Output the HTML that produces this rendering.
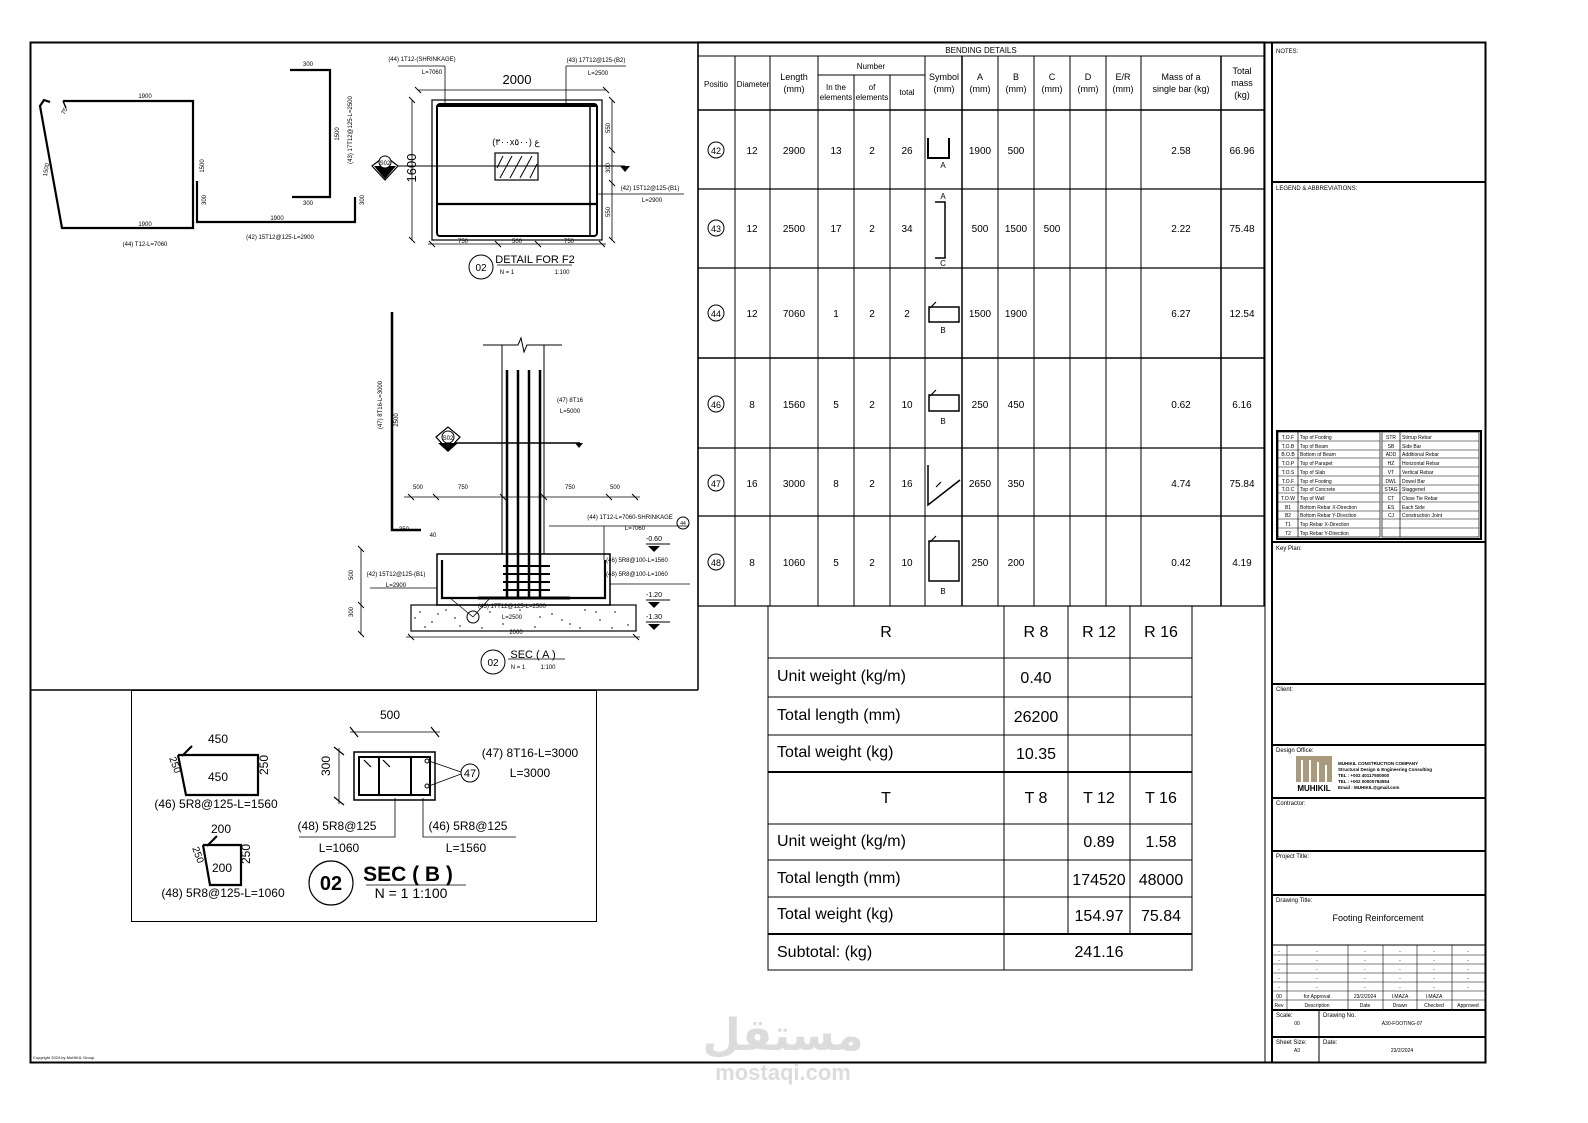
<!DOCTYPE html>
<html><head><meta charset="utf-8"><style>
html,body{margin:0;padding:0;background:#fff;}
svg{display:block;font-family:"Liberation Sans",sans-serif;}
.t{font-size:7px;}
.s{font-size:6px;}
.b{font-size:16px;}
</style></head><body>
<svg width="1588" height="1123" viewBox="0 0 1588 1123" xmlns="http://www.w3.org/2000/svg">
<rect width="1588" height="1123" fill="#fff"/>
<rect x="30.5" y="42.5" width="1455" height="1020" fill="none" stroke="#000" stroke-width="2"/>
<line x1="30" y1="690" x2="698" y2="690" stroke="#000" stroke-width="1.5"/>
<line x1="698" y1="42" x2="698" y2="690" stroke="#000" stroke-width="1.5"/>
<rect x="131.5" y="690.5" width="465" height="231" fill="none" stroke="#000" stroke-width="1"/>

<!-- ===== top-left bar shapes ===== -->
<g fill="none" stroke="#000" stroke-width="2.2">
<polyline points="63,101 193,101 193,228 62,228 40,106 44,100 50,102"/>
<line x1="63" y1="101" x2="66" y2="108" stroke-width="1.5"/>
<polyline points="197,181 197,222 355,222 355,197"/>
<polyline points="290,70 330,70 330,197 292,197"/>
</g>
<g class="s" text-anchor="middle">
<text x="145" y="98">1900</text><text x="145" y="226">1900</text>
<text x="277" y="220">1900</text>
<text x="308" y="66">300</text><text x="308" y="205">300</text>
<text x="145" y="246">(44) T12-L=7060</text>
<text x="280" y="239">(42) 15T12@125-L=2900</text>
<text transform="translate(204,166) rotate(-90)">1500</text>
<text transform="translate(48,170) rotate(-80)">1500</text>
<text transform="translate(206,200) rotate(-90)">300</text>
<text transform="translate(364,200) rotate(-90)">300</text>
<text transform="translate(339,134) rotate(-90)">1500</text>
<text transform="translate(352,130) rotate(-90)">(43) 17T12@125-L=2500</text>
<text transform="translate(66,112) rotate(-60)">75</text>
</g>

<!-- ===== Detail F2 ===== -->
<g fill="none" stroke="#000">
<rect x="432" y="100" width="170" height="140" stroke-width="1.2"/>
<rect x="437" y="104" width="160" height="132" rx="3" stroke-width="2"/>
<line x1="437" y1="204" x2="597" y2="204" stroke-width="2.2"/>
<line x1="437" y1="106" x2="597" y2="106" stroke-width="2"/>
<line x1="590" y1="106" x2="590" y2="236" stroke-width="1.5"/>
<rect x="495" y="153" width="43" height="27" stroke-width="1.2"/>
<line x1="375" y1="166" x2="625" y2="166" stroke-width="1"/>
<line x1="418" y1="90" x2="606" y2="90" stroke-width="0.8"/>
<line x1="412" y1="100" x2="412" y2="240" stroke-width="0.8"/>
<line x1="612" y1="100" x2="612" y2="240" stroke-width="0.8"/>
<line x1="428" y1="244" x2="606" y2="244" stroke-width="0.8"/>
<line x1="398" y1="66" x2="445" y2="66" stroke-width="0.8"/>
<line x1="445" y1="66" x2="445" y2="104" stroke-width="0.8"/>
<line x1="566" y1="66" x2="626" y2="66" stroke-width="0.8"/>
<line x1="566" y1="66" x2="566" y2="104" stroke-width="0.8"/>
<line x1="597" y1="194" x2="684" y2="194" stroke-width="0.8"/>
<circle cx="481" cy="267" r="12" stroke-width="1"/>
<line x1="497" y1="265" x2="572" y2="265" stroke-width="0.8"/>
</g>
<g stroke="#000" stroke-width="1">
<line x1="500" y1="178" x2="512" y2="156"/><line x1="510" y1="178" x2="522" y2="156"/><line x1="520" y1="178" x2="532" y2="156"/><line x1="530" y1="178" x2="537" y2="164"/><line x1="497" y1="168" x2="503" y2="156"/>
<line x1="415" y1="87" x2="421" y2="93"/><line x1="603" y1="87" x2="609" y2="93"/>
<line x1="409" y1="97" x2="415" y2="103"/><line x1="409" y1="237" x2="415" y2="243"/>
<line x1="609" y1="97" x2="615" y2="103"/><line x1="609" y1="147" x2="615" y2="153"/><line x1="609" y1="180" x2="615" y2="186"/><line x1="609" y1="237" x2="615" y2="243"/>
<line x1="429" y1="241" x2="435" y2="247"/><line x1="495" y1="241" x2="501" y2="247"/><line x1="535" y1="241" x2="541" y2="247"/><line x1="599" y1="241" x2="605" y2="247"/>
</g>
<path d="M372,166 L385,156 L398,166 L385,180 Z" fill="#fff" stroke="#000" stroke-width="1.2"/>
<path d="M374,166 L396,166 L385,179 Z" fill="#000"/>
<circle cx="385" cy="162" r="6" fill="#fff" stroke="#000" stroke-width="1"/>
<path d="M620,166 L630,166 L625,172 Z" fill="#000"/>
<g class="s" text-anchor="middle">
<text x="517" y="84" style="font-size:13px">2000</text>
<text transform="translate(416,168) rotate(-90)" style="font-size:13px">1600</text>
<text x="422" y="61">(44) 1T12-(SHRINKAGE)</text><text x="432" y="74">L=7060</text>
<text x="596" y="62">(43) 17T12@125-(B2)</text><text x="598" y="75">L=2500</text>
<text x="650" y="190">(42) 15T12@125-(B1)</text><text x="652" y="202">L=2900</text>
<text x="463" y="243">750</text><text x="517" y="243">500</text><text x="569" y="243">750</text>
<text transform="translate(610,128) rotate(-90)">550</text>
<text transform="translate(610,168) rotate(-90)">300</text>
<text transform="translate(610,212) rotate(-90)">550</text>
<text x="516" y="145" style="font-size:9px">(٣٠٠x٥٠٠) ع</text>
<text x="385" y="165">S02</text>
<text x="481" y="271" style="font-size:10px">02</text>
<text x="535" y="263" style="font-size:11px">DETAIL FOR F2</text>
<text x="507" y="274">N = 1</text><text x="562" y="274">1:100</text>
</g>

<!-- ===== Sec A ===== -->
<g fill="none" stroke="#000">
<polyline points="392,312 392,530 421,530" stroke-width="2.5"/>
<line x1="502" y1="345" x2="502" y2="554" stroke-width="1"/>
<line x1="544" y1="345" x2="544" y2="554" stroke-width="1"/>
<polyline points="483,345 518,345 521,338 524,352 527,345 562,345" stroke-width="1"/>
<line x1="507" y1="370" x2="507" y2="598" stroke-width="2.5"/>
<line x1="518" y1="370" x2="518" y2="598" stroke-width="2.5"/>
<line x1="529" y1="370" x2="529" y2="598" stroke-width="2.5"/>
<line x1="540" y1="370" x2="540" y2="598" stroke-width="2.5"/>
<rect x="437" y="554" width="173" height="51" stroke-width="1.5"/>
<polyline points="442,560 442,598 605,598 605,560" stroke-width="2.2"/>
<rect x="411" y="605" width="225" height="26" stroke-width="1.2"/>
<line x1="440" y1="443" x2="580" y2="443" stroke-width="1.5"/>
<line x1="404" y1="497" x2="640" y2="497" stroke-width="0.8"/>
<line x1="406" y1="637" x2="640" y2="637" stroke-width="0.8"/>
<line x1="361" y1="549" x2="361" y2="635" stroke-width="0.8"/>
<line x1="549" y1="526" x2="689" y2="526" stroke-width="0.8"/>
<line x1="604" y1="526" x2="604" y2="560" stroke-width="0.8"/>
<line x1="370" y1="588" x2="437" y2="588" stroke-width="0.8"/>
<line x1="610" y1="584" x2="690" y2="584" stroke-width="0.8"/>
<circle cx="683" cy="523" r="6" stroke-width="1"/>
<circle cx="493" cy="662" r="12" stroke-width="1"/>
<line x1="508" y1="659" x2="565" y2="659" stroke-width="0.8"/>
<circle cx="473" cy="617" r="6" stroke-width="1"/>
<line x1="450" y1="598" x2="473" y2="617" stroke-width="0.8"/>
<line x1="490" y1="598" x2="473" y2="617" stroke-width="0.8"/>
</g>
<g stroke="#000" stroke-width="2">
<line x1="503" y1="566" x2="550" y2="566"/><line x1="503" y1="574" x2="550" y2="574"/><line x1="503" y1="582" x2="550" y2="582"/><line x1="503" y1="590" x2="550" y2="590"/>
<line x1="478" y1="598" x2="570" y2="598" stroke-width="3"/>
</g>
<g stroke="#000" stroke-width="1">
<line x1="408" y1="494" x2="414" y2="500"/><line x1="433" y1="494" x2="439" y2="500"/><line x1="500" y1="494" x2="506" y2="500"/><line x1="541" y1="494" x2="547" y2="500"/><line x1="606" y1="494" x2="612" y2="500"/><line x1="632" y1="494" x2="638" y2="500"/>
<line x1="358" y1="546" x2="364" y2="552"/><line x1="358" y1="602" x2="364" y2="608"/><line x1="358" y1="631" x2="364" y2="637"/>
<line x1="408" y1="634" x2="414" y2="640"/><line x1="633" y1="634" x2="639" y2="640"/>
<line x1="646" y1="544" x2="670" y2="544"/><line x1="646" y1="600" x2="670" y2="600"/><line x1="646" y1="622" x2="670" y2="622"/>
</g>
<g fill="#000">
<path d="M648,546 L660,546 L654,552Z"/><path d="M648,602 L660,602 L654,608Z"/><path d="M648,624 L660,624 L654,630Z"/>
</g>
<g fill="#444">
<circle cx="420" cy="612" r="0.9"/><circle cx="432" cy="622" r="0.9"/><circle cx="446" cy="610" r="0.9"/><circle cx="460" cy="626" r="0.9"/><circle cx="490" cy="612" r="0.9"/><circle cx="503" cy="624" r="0.9"/><circle cx="520" cy="610" r="0.9"/><circle cx="535" cy="627" r="0.9"/><circle cx="552" cy="614" r="0.9"/><circle cx="570" cy="624" r="0.9"/><circle cx="585" cy="610" r="0.9"/><circle cx="600" cy="620" r="0.9"/><circle cx="615" cy="612" r="0.9"/><circle cx="628" cy="625" r="0.9"/><circle cx="425" cy="627" r="0.9"/><circle cx="540" cy="617" r="0.9"/><circle cx="580" cy="628" r="0.9"/><circle cx="612" cy="628" r="0.9"/><circle cx="415" cy="618" r="0.9"/><circle cx="455" cy="618" r="0.9"/><circle cx="438" cy="614" r="0.9"/><circle cx="596" cy="612" r="0.9"/><circle cx="562" cy="620" r="0.9"/><circle cx="482" cy="628" r="0.9"/>
</g>
<path d="M436,437 L448,427 L460,437 L448,450 Z" fill="#fff" stroke="#000" stroke-width="1.2"/>
<path d="M438,443 L458,443 L448,452 Z" fill="#000"/>
<circle cx="448" cy="437" r="6" fill="#fff" stroke="#000"/>
<path d="M575,443 L583,443 L579,448Z" fill="#000"/>
<g class="s" text-anchor="middle">
<text transform="translate(382,405) rotate(-90)">(47) 8T16-L=3000</text>
<text transform="translate(398,420) rotate(-90)">2500</text>
<text x="404" y="531">350</text><text x="433" y="537">40</text>
<text x="570" y="402">(47) 8T16</text><text x="570" y="413">L=5000</text>
<text x="418" y="489">500</text><text x="463" y="489">750</text><text x="570" y="489">750</text><text x="615" y="489">500</text>
<text x="630" y="519">(44) 1T12-L=7060-SHRINKAGE</text><text x="635" y="530">L=7060</text>
<text x="637" y="562">(46) 5R8@100-L=1560</text><text x="637" y="576">(48) 5R8@100-L=1060</text>
<text x="396" y="576">(42) 15T12@125-(B1)</text><text x="396" y="587">L=2900</text>
<text x="512" y="608">(43) 17T12@125-L=2500</text><text x="512" y="619">L=2500</text>
<text x="516" y="634">2000</text>
<text x="654" y="541" style="font-size:7px">-0.60</text><text x="654" y="597" style="font-size:7px">-1.20</text><text x="654" y="619" style="font-size:7px">-1.30</text>
<text transform="translate(353,575) rotate(-90)">500</text><text transform="translate(353,612) rotate(-90)">300</text>
<text x="683" y="525" style="font-size:5px">44</text>
<text x="448" y="440">S02</text>
<text x="493" y="666" style="font-size:10px">02</text>
<text x="533" y="658" style="font-size:11px">SEC ( A )</text>
<text x="518" y="669">N = 1</text><text x="548" y="669">1:100</text>
</g>

<!-- ===== Sec B box ===== -->
<g fill="none" stroke="#000">
<polyline points="178,755 258,755 258,795 186,795 178,755" stroke-width="2.2"/>
<line x1="182" y1="756" x2="192" y2="746" stroke-width="2"/>
<polyline points="203,845 241,845 241,885 210,885 203,845" stroke-width="2.2"/>
<line x1="207" y1="846" x2="217" y2="836" stroke-width="2"/>
<rect x="354" y="752" width="81" height="48" stroke-width="1.5"/>
<rect x="359" y="757" width="71" height="38" stroke-width="2"/>
<line x1="379" y1="757" x2="379" y2="795" stroke-width="2"/>
<line x1="411" y1="757" x2="411" y2="795" stroke-width="2"/>
<circle cx="427" cy="761" r="2" stroke-width="1"/><circle cx="427" cy="786" r="2" stroke-width="1"/>
<line x1="429" y1="761" x2="461" y2="772" stroke-width="0.8"/><line x1="429" y1="786" x2="461" y2="774" stroke-width="0.8"/>
<circle cx="470" cy="773" r="9" stroke-width="1"/>
<line x1="350" y1="732" x2="440" y2="732" stroke-width="0.8"/>
<line x1="339" y1="748" x2="339" y2="804" stroke-width="0.8"/>
<polyline points="299,837 395,837 395,798" stroke-width="0.8"/>
<polyline points="516,837 423,837 423,798" stroke-width="0.8"/>
<circle cx="331" cy="883" r="22" stroke-width="1.2"/>
<line x1="366" y1="885" x2="466" y2="885" stroke-width="0.8"/>
</g>
<g stroke="#000" stroke-width="1.2">
<line x1="350" y1="727" x2="358" y2="737"/><line x1="431" y1="727" x2="439" y2="737"/>
<line x1="334" y1="747" x2="344" y2="755"/><line x1="334" y1="797" x2="344" y2="805"/>
<line x1="364" y1="760" x2="371" y2="767"/><line x1="383" y1="760" x2="390" y2="767"/>
</g>
<g style="font-size:12px" text-anchor="middle">
<text x="218" y="743">450</text><text x="218" y="781">450</text>
<text transform="translate(268,765) rotate(-90)">250</text>
<text transform="translate(172,766) rotate(70)" style="font-size:10px">250</text>
<text x="216" y="808">(46) 5R8@125-L=1560</text>
<text x="221" y="833">200</text><text x="222" y="872">200</text>
<text transform="translate(250,854) rotate(-90)">250</text>
<text transform="translate(195,856) rotate(70)" style="font-size:10px">250</text>
<text x="223" y="897">(48) 5R8@125-L=1060</text>
<text x="390" y="719">500</text>
<text transform="translate(330,766) rotate(-90)">300</text>
<text x="470" y="777" style="font-size:11px">47</text>
<text x="530" y="757">(47) 8T16-L=3000</text><text x="530" y="777">L=3000</text>
<text x="337" y="830">(48) 5R8@125</text><text x="339" y="852">L=1060</text>
<text x="468" y="830">(46) 5R8@125</text><text x="466" y="852">L=1560</text>
<text x="331" y="890" style="font-size:20px;font-weight:bold">02</text>
<text x="408" y="881" style="font-size:21px;font-weight:bold">SEC ( B )</text>
<text x="411" y="898" style="font-size:14px">N = 1    1:100</text>
</g>

<!-- ===== Bending table ===== -->
<g stroke="#000" fill="none" stroke-width="1">
<rect x="698" y="42" width="566" height="564" stroke-width="1.2"/>
<line x1="698" y1="56" x2="1264" y2="56"/>
<line x1="698" y1="110" x2="1264" y2="110" stroke-width="1.5"/>
<line x1="818" y1="75" x2="925" y2="75"/>
<line x1="698" y1="189" x2="1264" y2="189" stroke-width="1.2"/>
<line x1="698" y1="268" x2="1264" y2="268" stroke-width="1.2"/>
<line x1="698" y1="358" x2="1264" y2="358" stroke-width="1.5"/>
<line x1="698" y1="448" x2="1264" y2="448" stroke-width="1.2"/>
<line x1="698" y1="516" x2="1264" y2="516" stroke-width="1.2"/>
<line x1="735" y1="56" x2="735" y2="606"/><line x1="770" y1="56" x2="770" y2="606"/><line x1="818" y1="56" x2="818" y2="606"/>
<line x1="854" y1="75" x2="854" y2="606"/><line x1="890" y1="75" x2="890" y2="606"/><line x1="925" y1="56" x2="925" y2="606"/>
<line x1="962" y1="56" x2="962" y2="606" stroke-width="1.5"/><line x1="998" y1="56" x2="998" y2="606"/><line x1="1034" y1="56" x2="1034" y2="606"/>
<line x1="1070" y1="56" x2="1070" y2="606"/><line x1="1106" y1="56" x2="1106" y2="606"/><line x1="1141" y1="56" x2="1141" y2="606"/>
<line x1="1221" y1="56" x2="1221" y2="606" stroke-width="1.5"/>
<circle cx="716" cy="150" r="8"/><circle cx="716" cy="228" r="8"/><circle cx="716" cy="313" r="8"/><circle cx="716" cy="404" r="8"/><circle cx="716" cy="483" r="8"/><circle cx="716" cy="562" r="8"/>
<polyline points="928,138 928,158 949,158 949,138" stroke-width="2"/>
<polyline points="935,202 945,202 945,258 935,258" stroke-width="1.5"/>
<rect x="929" y="307" width="30" height="15" stroke-width="1.5"/>
<rect x="929" y="395" width="30" height="16" stroke-width="1.5"/>
<polyline points="928,465 928,505 960,480" stroke-width="1.5"/>
<rect x="929" y="541" width="30" height="40" stroke-width="1.5"/>
</g>
<g stroke="#000" stroke-width="1.2">
<line x1="930" y1="308" x2="936" y2="302"/><line x1="930" y1="396" x2="936" y2="390"/><line x1="930" y1="542" x2="936" y2="536"/>
<line x1="936" y1="487" x2="941" y2="482"/>
</g>
<g class="t" text-anchor="middle">
<text x="981" y="53" style="font-size:8px">BENDING  DETAILS</text>
<text x="871" y="69" style="font-size:8px">Number</text>
<text x="716" y="87" style="font-size:8px">Positio</text><text x="753" y="87" style="font-size:8px">Diameter</text>
<text x="794" y="80" style="font-size:9px">Length</text><text x="794" y="92" style="font-size:9px">(mm)</text>
<text x="836" y="90" style="font-size:8px">In the</text><text x="836" y="100" style="font-size:8px">elements</text>
<text x="872" y="90" style="font-size:8px">of</text><text x="872" y="100" style="font-size:8px">elements</text>
<text x="907" y="95" style="font-size:8px">total</text>
<text x="944" y="80" style="font-size:9px">Symbol</text><text x="944" y="92" style="font-size:9px">(mm)</text>
<text x="980" y="80" style="font-size:9px">A</text><text x="980" y="92" style="font-size:9px">(mm)</text>
<text x="1016" y="80" style="font-size:9px">B</text><text x="1016" y="92" style="font-size:9px">(mm)</text>
<text x="1052" y="80" style="font-size:9px">C</text><text x="1052" y="92" style="font-size:9px">(mm)</text>
<text x="1088" y="80" style="font-size:9px">D</text><text x="1088" y="92" style="font-size:9px">(mm)</text>
<text x="1123" y="80" style="font-size:9px">E/R</text><text x="1123" y="92" style="font-size:9px">(mm)</text>
<text x="1181" y="80" style="font-size:9px">Mass of a</text><text x="1181" y="92" style="font-size:9px">single bar (kg)</text>
<text x="1242" y="74" style="font-size:9px">Total</text><text x="1242" y="86" style="font-size:9px">mass</text><text x="1242" y="98" style="font-size:9px">(kg)</text>
</g>
<g style="font-size:10px" text-anchor="middle">
<text x="716" y="154" style="font-size:9px">42</text><text x="752" y="154">12</text><text x="794" y="154">2900</text><text x="836" y="154">13</text><text x="872" y="154">2</text><text x="907" y="154">26</text><text x="943" y="168" style="font-size:8px">A</text><text x="980" y="154">1900</text><text x="1016" y="154">500</text><text x="1181" y="154">2.58</text><text x="1242" y="154">66.96</text>
<text x="716" y="232" style="font-size:9px">43</text><text x="752" y="232">12</text><text x="794" y="232">2500</text><text x="836" y="232">17</text><text x="872" y="232">2</text><text x="907" y="232">34</text><text x="943" y="199" style="font-size:8px">A</text><text x="943" y="266" style="font-size:8px">C</text><text x="980" y="232">500</text><text x="1016" y="232">1500</text><text x="1052" y="232">500</text><text x="1181" y="232">2.22</text><text x="1242" y="232">75.48</text>
<text x="716" y="317" style="font-size:9px">44</text><text x="752" y="317">12</text><text x="794" y="317">7060</text><text x="836" y="317">1</text><text x="872" y="317">2</text><text x="907" y="317">2</text><text x="943" y="333" style="font-size:8px">B</text><text x="980" y="317">1500</text><text x="1016" y="317">1900</text><text x="1181" y="317">6.27</text><text x="1242" y="317">12.54</text>
<text x="716" y="408" style="font-size:9px">46</text><text x="752" y="408">8</text><text x="794" y="408">1560</text><text x="836" y="408">5</text><text x="872" y="408">2</text><text x="907" y="408">10</text><text x="943" y="424" style="font-size:8px">B</text><text x="980" y="408">250</text><text x="1016" y="408">450</text><text x="1181" y="408">0.62</text><text x="1242" y="408">6.16</text>
<text x="716" y="487" style="font-size:9px">47</text><text x="752" y="487">16</text><text x="794" y="487">3000</text><text x="836" y="487">8</text><text x="872" y="487">2</text><text x="907" y="487">16</text><text x="980" y="487">2650</text><text x="1016" y="487">350</text><text x="1181" y="487">4.74</text><text x="1242" y="487">75.84</text>
<text x="716" y="566" style="font-size:9px">48</text><text x="752" y="566">8</text><text x="794" y="566">1060</text><text x="836" y="566">5</text><text x="872" y="566">2</text><text x="907" y="566">10</text><text x="943" y="594" style="font-size:8px">B</text><text x="980" y="566">250</text><text x="1016" y="566">200</text><text x="1181" y="566">0.42</text><text x="1242" y="566">4.19</text>
</g>

<!-- ===== Summary table ===== -->
<g stroke="#000" fill="none" stroke-width="1">
<rect x="768" y="606" width="424" height="364"/>
<line x1="1004" y1="606" x2="1004" y2="934"/><line x1="1068" y1="606" x2="1068" y2="934"/><line x1="1130" y1="606" x2="1130" y2="934"/>
<line x1="1004" y1="934" x2="1004" y2="970"/>
<line x1="768" y1="658" x2="1192" y2="658"/><line x1="768" y1="697" x2="1192" y2="697"/><line x1="768" y1="735" x2="1192" y2="735"/>
<line x1="768" y1="772" x2="1192" y2="772" stroke-width="2"/>
<line x1="768" y1="824" x2="1192" y2="824"/><line x1="768" y1="860" x2="1192" y2="860"/><line x1="768" y1="897" x2="1192" y2="897"/>
<line x1="768" y1="934" x2="1192" y2="934" stroke-width="2"/>
</g>
<g class="b">
<text x="886" y="637" text-anchor="middle">R</text>
<text x="1036" y="637" text-anchor="middle">R 8</text><text x="1099" y="637" text-anchor="middle">R 12</text><text x="1161" y="637" text-anchor="middle">R 16</text>
<text x="777" y="681">Unit weight (kg/m)</text><text x="1036" y="683" text-anchor="middle">0.40</text>
<text x="777" y="720">Total length (mm)</text><text x="1036" y="722" text-anchor="middle">26200</text>
<text x="777" y="757">Total weight (kg)</text><text x="1036" y="759" text-anchor="middle">10.35</text>
<text x="886" y="803" text-anchor="middle">T</text>
<text x="1036" y="803" text-anchor="middle">T 8</text><text x="1099" y="803" text-anchor="middle">T 12</text><text x="1161" y="803" text-anchor="middle">T 16</text>
<text x="777" y="846">Unit weight (kg/m)</text><text x="1099" y="847" text-anchor="middle">0.89</text><text x="1161" y="847" text-anchor="middle">1.58</text>
<text x="777" y="883">Total length (mm)</text><text x="1099" y="885" text-anchor="middle">174520</text><text x="1161" y="885" text-anchor="middle">48000</text>
<text x="777" y="919">Total weight (kg)</text><text x="1099" y="921" text-anchor="middle">154.97</text><text x="1161" y="921" text-anchor="middle">75.84</text>
<text x="777" y="957">Subtotal: (kg)</text><text x="1099" y="957" text-anchor="middle">241.16</text>
</g>

<!-- ===== Title block ===== -->
<g stroke="#000" fill="none">
<line x1="1265" y1="42" x2="1265" y2="1062" stroke-width="1"/>
<line x1="1272" y1="42" x2="1272" y2="1062" stroke-width="2"/>
<line x1="1272" y1="182" x2="1485" y2="182" stroke-width="2"/>
<line x1="1272" y1="542" x2="1485" y2="542" stroke-width="2"/>
<line x1="1272" y1="684" x2="1485" y2="684" stroke-width="2"/>
<line x1="1272" y1="745" x2="1485" y2="745" stroke-width="2"/>
<line x1="1272" y1="798" x2="1485" y2="798" stroke-width="2"/>
<line x1="1272" y1="851" x2="1485" y2="851" stroke-width="2"/>
<line x1="1272" y1="895" x2="1485" y2="895" stroke-width="2"/>
<line x1="1272" y1="945" x2="1485" y2="945" stroke-width="1"/>
<line x1="1272" y1="1010" x2="1485" y2="1010" stroke-width="2"/>
<line x1="1272" y1="1037" x2="1485" y2="1037" stroke-width="2"/>
<line x1="1319" y1="1010" x2="1319" y2="1062" stroke-width="1"/>
<rect x="1277" y="431" width="204" height="108" stroke-width="2"/>
<rect x="1278" y="432" width="102" height="105" stroke-width="0.7"/>
<rect x="1382" y="432" width="97" height="105" stroke-width="0.7"/>
<line x1="1298" y1="432" x2="1298" y2="537" stroke-width="0.7"/>
<line x1="1400" y1="432" x2="1400" y2="537" stroke-width="0.7"/>
</g>
<g stroke="#000" stroke-width="0.6">
<line x1="1278" y1="441" x2="1380" y2="441"/><line x1="1278" y1="450" x2="1380" y2="450"/><line x1="1278" y1="458" x2="1380" y2="458"/><line x1="1278" y1="467" x2="1380" y2="467"/><line x1="1278" y1="476" x2="1380" y2="476"/><line x1="1278" y1="485" x2="1380" y2="485"/><line x1="1278" y1="493" x2="1380" y2="493"/><line x1="1278" y1="502" x2="1380" y2="502"/><line x1="1278" y1="511" x2="1380" y2="511"/><line x1="1278" y1="519" x2="1380" y2="519"/><line x1="1278" y1="528" x2="1380" y2="528"/>
<line x1="1382" y1="441" x2="1479" y2="441"/><line x1="1382" y1="450" x2="1479" y2="450"/><line x1="1382" y1="458" x2="1479" y2="458"/><line x1="1382" y1="467" x2="1479" y2="467"/><line x1="1382" y1="476" x2="1479" y2="476"/><line x1="1382" y1="485" x2="1479" y2="485"/><line x1="1382" y1="493" x2="1479" y2="493"/><line x1="1382" y1="502" x2="1479" y2="502"/><line x1="1382" y1="511" x2="1479" y2="511"/><line x1="1382" y1="519" x2="1479" y2="519"/><line x1="1382" y1="528" x2="1479" y2="528"/>
<line x1="1272" y1="955" x2="1485" y2="955"/><line x1="1272" y1="964" x2="1485" y2="964"/><line x1="1272" y1="973" x2="1485" y2="973"/><line x1="1272" y1="982" x2="1485" y2="982"/><line x1="1272" y1="991" x2="1485" y2="991"/><line x1="1272" y1="1000" x2="1485" y2="1000"/>
<line x1="1287" y1="945" x2="1287" y2="1010"/><line x1="1348" y1="945" x2="1348" y2="1010"/><line x1="1383" y1="945" x2="1383" y2="1010"/><line x1="1417" y1="945" x2="1417" y2="1010"/><line x1="1452" y1="945" x2="1452" y2="1010"/>
</g>
<g style="font-size:5px">
<text x="1300" y="439">Top of Footing</text><text x="1300" y="448">Top of Beam</text><text x="1300" y="456">Bottom of Beam</text><text x="1300" y="465">Top of Parapet</text><text x="1300" y="474">Top of Slab</text><text x="1300" y="483">Top of Footing</text><text x="1300" y="491">Top of Concrete</text><text x="1300" y="500">Top of Wall</text><text x="1300" y="509">Bottom Rebar X-Direction</text><text x="1300" y="517">Bottom Rebar Y-Direction</text><text x="1300" y="526">Top Rebar X-Direction</text><text x="1300" y="535">Top Rebar Y-Direction</text>
<text x="1402" y="439">Stirrup Rebar</text><text x="1402" y="448">Side Bar</text><text x="1402" y="456">Additional Rebar</text><text x="1402" y="465">Horizontal Rebar</text><text x="1402" y="474">Vertical Rebar</text><text x="1402" y="483">Dowel Bar</text><text x="1402" y="491">Staggered</text><text x="1402" y="500">Close Tie Rebar</text><text x="1402" y="509">Each Side</text><text x="1402" y="517">Construction Joint</text>
</g>
<g style="font-size:5px" text-anchor="middle">
<text x="1288" y="439">T.O.F</text><text x="1288" y="448">T.O.B</text><text x="1288" y="456">B.O.B</text><text x="1288" y="465">T.O.P</text><text x="1288" y="474">T.O.S</text><text x="1288" y="483">T.O.F</text><text x="1288" y="491">T.O.C</text><text x="1288" y="500">T.O.W</text><text x="1288" y="509">B1</text><text x="1288" y="517">B2</text><text x="1288" y="526">T1</text><text x="1288" y="535">T2</text>
<text x="1391" y="439">STR</text><text x="1391" y="448">SB</text><text x="1391" y="456">ADD</text><text x="1391" y="465">HZ</text><text x="1391" y="474">VT</text><text x="1391" y="483">DWL</text><text x="1391" y="491">STAG</text><text x="1391" y="500">CT</text><text x="1391" y="509">ES</text><text x="1391" y="517">CJ</text>
</g>
<g style="font-size:6px">
<text x="1276" y="53">NOTES:</text>
<text x="1276" y="190">LEGEND &amp; ABBREVIATIONS:</text>
<text x="1276" y="550">Key Plan:</text>
<text x="1276" y="691">Client:</text>
<text x="1276" y="752">Design Office:</text>
<text x="1276" y="805">Contractor:</text>
<text x="1276" y="858">Project Title:</text>
<text x="1276" y="902">Drawing Title:</text>
<text x="1276" y="1017">Scale:</text><text x="1323" y="1017">Drawing No.</text>
<text x="1276" y="1044">Sheet Size:</text><text x="1323" y="1044">Date:</text>
</g>
<g style="font-size:5px" text-anchor="middle">
<text x="1297" y="1025">00</text><text x="1402" y="1025">A30-FOOTING-07</text>
<text x="1297" y="1052">A3</text><text x="1402" y="1052">23/2/2024</text>
<text x="1279" y="953">-</text><text x="1317" y="953">-</text><text x="1365" y="953">-</text><text x="1400" y="953">-</text><text x="1434" y="953">-</text><text x="1468" y="953">-</text>
<text x="1279" y="962">-</text><text x="1317" y="962">-</text><text x="1365" y="962">-</text><text x="1400" y="962">-</text><text x="1434" y="962">-</text><text x="1468" y="962">-</text>
<text x="1279" y="971">-</text><text x="1317" y="971">-</text><text x="1365" y="971">-</text><text x="1400" y="971">-</text><text x="1434" y="971">-</text><text x="1468" y="971">-</text>
<text x="1279" y="980">-</text><text x="1317" y="980">-</text><text x="1365" y="980">-</text><text x="1400" y="980">-</text><text x="1434" y="980">-</text><text x="1468" y="980">-</text>
<text x="1279" y="989">-</text><text x="1317" y="989">-</text><text x="1365" y="989">-</text><text x="1400" y="989">-</text><text x="1434" y="989">-</text><text x="1468" y="989">-</text>
<text x="1279" y="998">00</text><text x="1317" y="998">for Approval</text><text x="1365" y="998">23/2/2024</text><text x="1400" y="998">I.MAZA</text><text x="1434" y="998">I.MAZA</text>
<text x="1279" y="1007">Rev</text><text x="1317" y="1007">Description</text><text x="1365" y="1007">Date</text><text x="1400" y="1007">Drawn</text><text x="1434" y="1007">Checked</text><text x="1468" y="1007">Approved</text>
</g>
<text x="1378" y="921" text-anchor="middle" style="font-size:9px">Footing Reinforcement</text>
<g>
<rect x="1296" y="756" width="36" height="26" fill="#a89a7a"/>
<line x1="1302" y1="760" x2="1302" y2="782" stroke="#fff" stroke-width="2"/><line x1="1310" y1="760" x2="1310" y2="782" stroke="#fff" stroke-width="2"/><line x1="1318" y1="762" x2="1318" y2="782" stroke="#fff" stroke-width="2"/><line x1="1326" y1="765" x2="1326" y2="782" stroke="#fff" stroke-width="2"/>
<text x="1314" y="791" text-anchor="middle" style="font-size:8px;font-weight:bold">MUHIKIL</text>
<g style="font-size:4.5px;font-weight:bold">
<text x="1338" y="765">MUHIKIL CONSTRUCTION COMPANY</text>
<text x="1338" y="771">Structural Design &amp; Engineering Consulting</text>
<text x="1338" y="777">TEL : +002 40117500000</text>
<text x="1338" y="783">TEL : +002 00000784554</text>
<text x="1338" y="789">Email : MUHIKIL@gmail.com</text>
</g>
</g>
<text x="33" y="1059" style="font-size:4px">Copyright 2024 by MuHIKIL Group</text>
<text x="783" y="1050" text-anchor="middle" style="font-size:44px;font-weight:bold;font-family:'Liberation Sans','DejaVu Sans',sans-serif" fill="#dcdcdc">مستقل</text>
<text x="783" y="1080" text-anchor="middle" style="font-size:22px;font-weight:bold" fill="#dcdcdc">mostaqi.com</text>
</svg>
</body></html>
